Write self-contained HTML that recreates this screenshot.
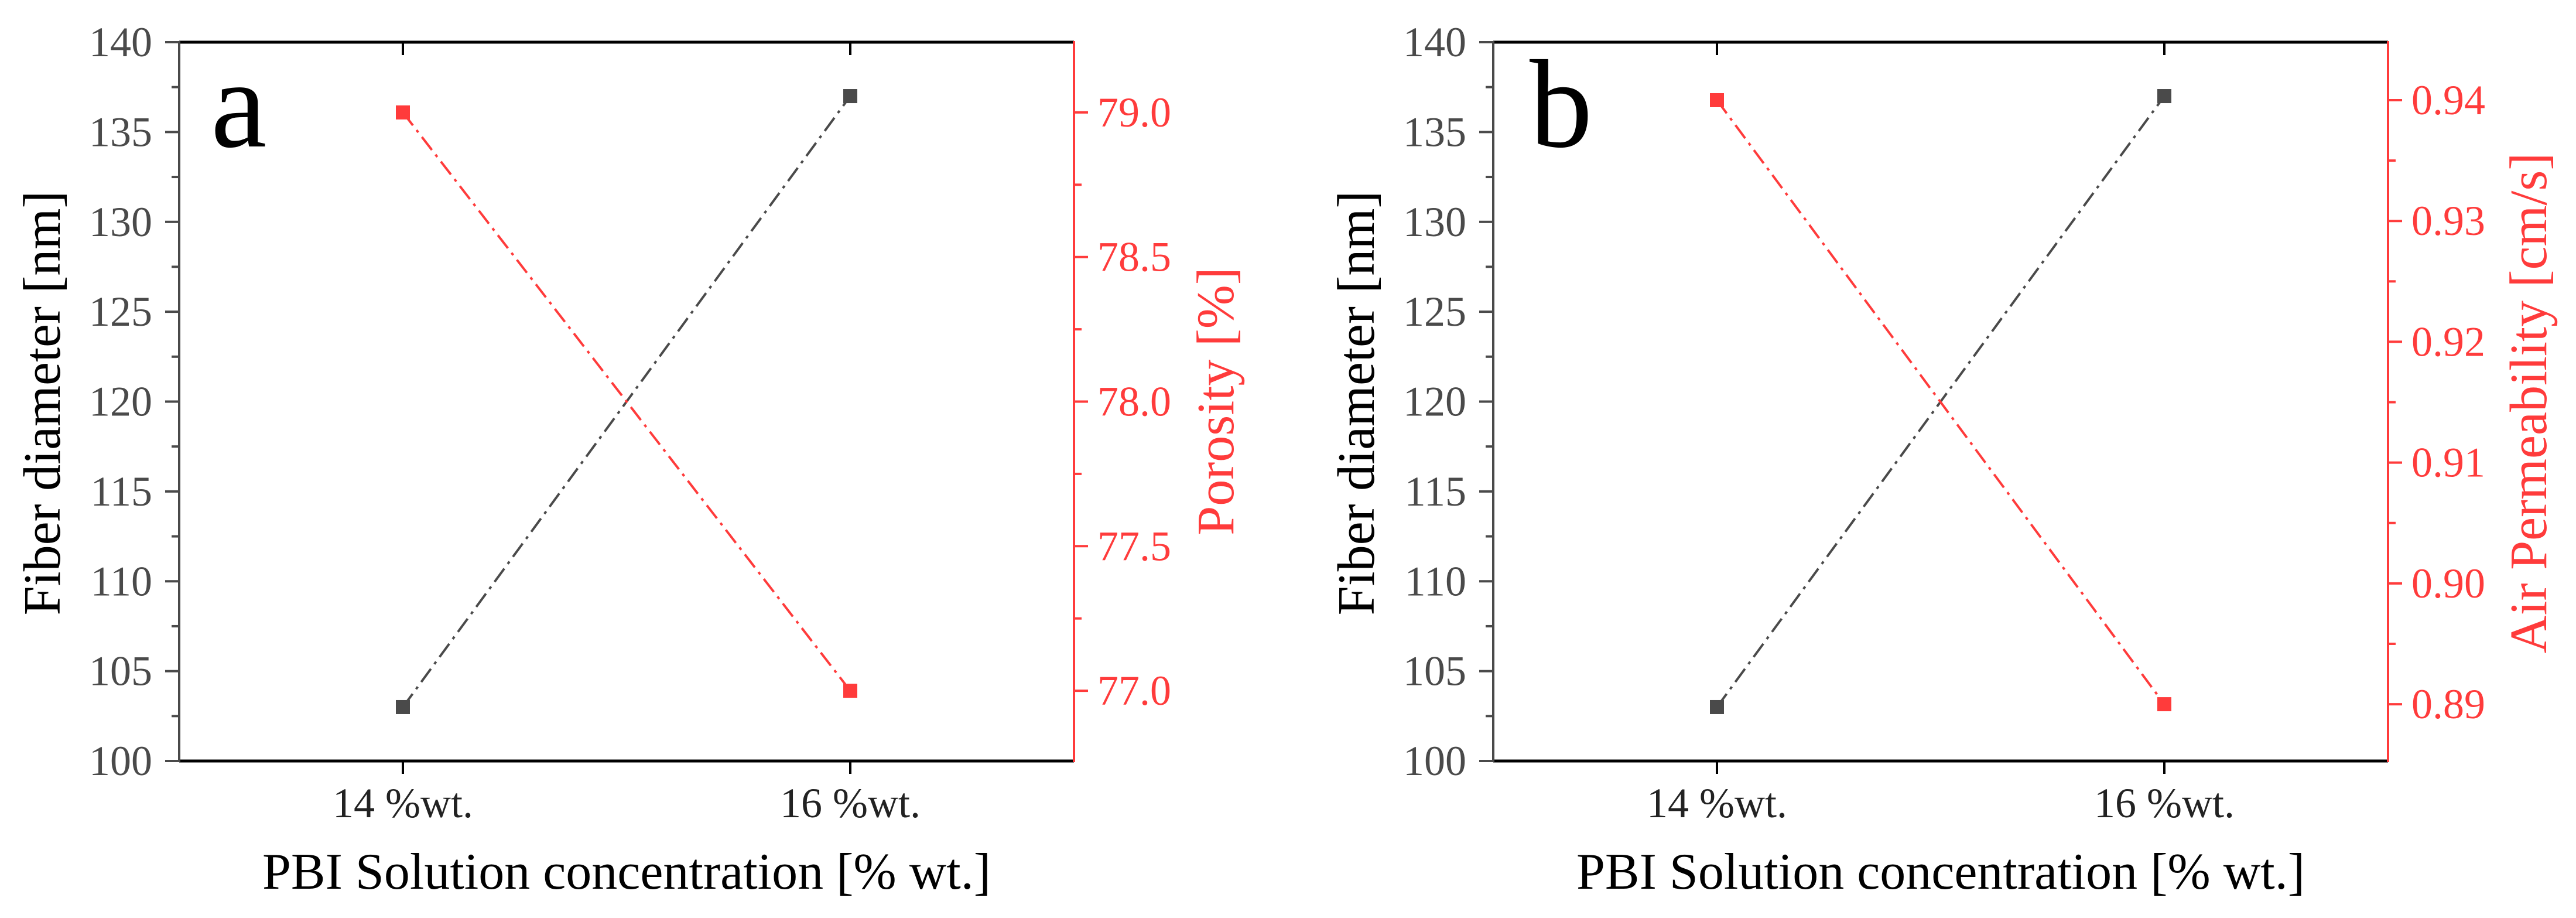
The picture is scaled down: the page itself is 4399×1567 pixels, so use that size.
<!DOCTYPE html>
<html><head><meta charset="utf-8"><style>
html,body{margin:0;padding:0;background:#fff;}
svg{display:block;font-family:"Liberation Serif","Times New Roman",serif;}
</style></head><body>
<svg id="chart" width="4399" height="1567" viewBox="0 0 4399 1567" xmlns="http://www.w3.org/2000/svg"></svg>
<script>
const categories = ["14 %wt.", "16 %wt."];
const fiberDiameter = [103, 137];
const porosity = [79.0, 77.0];
const airPermeability = [0.94, 0.89];
const leftTicks = [100, 105, 110, 115, 120, 125, 130, 135, 140];
const porosityTicks = ["77.0", "77.5", "78.0", "78.5", "79.0"];
const permTicks = ["0.89", "0.90", "0.91", "0.92", "0.93", "0.94"];

const NS = "http://www.w3.org/2000/svg";
const svg = document.getElementById('chart');
const GRAY = "#4a4a4a", RED = "#ff3b3b";
function el(tag, attrs, parent) {
  const e = document.createElementNS(NS, tag);
  for (const k in attrs) e.setAttribute(k, attrs[k]);
  (parent || svg).appendChild(e);
  return e;
}

function panel(cfg) {
  const g = el('g', {});
  
  
  const L = cfg.L, R = cfg.R, T = 72, B = 1299;
  const xScale = i => L + (R - L) * (0.25 + 0.5 * i);
  const yL = v => B - (v - 100) / (140 - 100) * (B - T);
  const yR = v => B - (v - cfg.rMin) / (cfg.rMax - cfg.rMin) * (B - T);

  // left axis ticks
  for (let v = 100; v <= 140; v += 2.5) {
    const major = (v % 5 === 0);
    const t = el('line', {x1: L, x2: L - (major ? 24 : 13), y1: yL(v), y2: yL(v), stroke: GRAY, 'stroke-width': 4}, g);
    
    
  }
  leftTicks.forEach(v => {
    const t = el('text', {x: L - 46, y: yL(v) + 24, 'text-anchor': 'end', 'font-size': 72, fill: GRAY}, g);
    t.textContent = v;
    
    
  });
  // right axis ticks
  const rt = cfg.rTicks.map(Number);
  const step = rt[1] - rt[0];
  for (let v = rt[0] - step; v <= cfg.rMax + 1e-9; v += step / 2) {
    if (v < cfg.rMin - 1e-9) continue;
    const k = Math.round((v - rt[0]) / (step / 2));
    const major = (k % 2 === 0);
    const t = el('line', {x1: R, x2: R + (major ? 24 : 13), y1: yR(v), y2: yR(v), stroke: RED, 'stroke-width': 4}, g);
    
    
  }
  cfg.rTicks.forEach(s => {
    const t = el('text', {x: R + 40, y: yR(Number(s)) + 24, 'text-anchor': 'start', 'font-size': 72, fill: RED}, g);
    t.textContent = s;
    
    
  });
  // x ticks
  categories.forEach((c, i) => {
    const x = xScale(i);
    const a = el('line', {x1: x, x2: x, y1: B, y2: B + 22, stroke: '#000', 'stroke-width': 4}, g);
    
    
    const b = el('line', {x1: x, x2: x, y1: T, y2: T + 22, stroke: '#000', 'stroke-width': 4}, g);
    
    
    const t = el('text', {x: x, y: 1395, 'text-anchor': 'middle', 'font-size': 72, fill: '#222'}, g);
    t.textContent = c;
    
    
  });
  // axes
  const top = el('line', {x1: L, x2: R, y1: T, y2: T, stroke: '#000', 'stroke-width': 5}, g);
  
  
  const bot = el('line', {x1: L, x2: R, y1: B, y2: B, stroke: '#000', 'stroke-width': 5}, g);
  
  
  const la = el('line', {x1: L, x2: L, y1: T - 2, y2: B + 2, stroke: GRAY, 'stroke-width': 4}, g);
  
  
  const ra = el('line', {x1: R, x2: R, y1: T - 2, y2: B + 2, stroke: RED, 'stroke-width': 4}, g);
  
  

  // series
  function series(vals, sc, color, name) {
    const pts = vals.map((v, i) => xScale(i) + ',' + sc(v)).join(' ');
    const pl = el('polyline', {points: pts, fill: 'none', stroke: color, 'stroke-width': 4, 'stroke-dasharray': '28 10 5 10'}, g);
    
    
    vals.forEach((v, i) => {
      const m = el('rect', {x: xScale(i) - 12, y: sc(v) - 12, width: 24, height: 24, fill: color}, g);
      
      
    });
  }
  series(fiberDiameter, yL, GRAY, 'fiber-diameter');
  series(cfg.rVals, yR, RED, cfg.rName);

  // titles
  const yt = el('text', {x: 0, y: 0, transform: `translate(${cfg.ltX},688) rotate(-90)`, 'text-anchor': 'middle', 'font-size': 90, fill: '#000'}, g);
  yt.textContent = 'Fiber diameter [nm]';
  
  
  const rtt = el('text', {x: 0, y: 0, transform: `translate(${cfg.rtX},${cfg.rtY}) rotate(-90)`, 'text-anchor': 'middle', 'font-size': 90, fill: RED}, g);
  rtt.textContent = cfg.rTitle;
  
  
  const xt = el('text', {x: (L + R) / 2, y: 1517, 'text-anchor': 'middle', 'font-size': 88, fill: '#000'}, g);
  xt.textContent = 'PBI Solution concentration [% wt.]';
  
  
  const lt = el('text', {x: cfg.letterX, y: 250, 'font-size': 215, fill: '#000'}, g);
  lt.textContent = cfg.letter;
  
  
}

panel({letter: 'a', L: 306, R: 1834, rMin: 76.757, rMax: 79.243, rTicks: porosityTicks, rVals: porosity,
  rName: 'porosity', rTitle: 'Porosity [%]', ltX: 102, rtX: 2106, rtY: 685, letterX: 360});
panel({letter: 'b', L: 2550, R: 4078, rMin: 0.8853, rMax: 0.9448, rTicks: permTicks, rVals: airPermeability,
  rName: 'air-permeability', rTitle: 'Air Permeability [cm/s]', ltX: 2346, rtX: 4348, rtY: 688, letterX: 2612});
</script>
</body></html>
